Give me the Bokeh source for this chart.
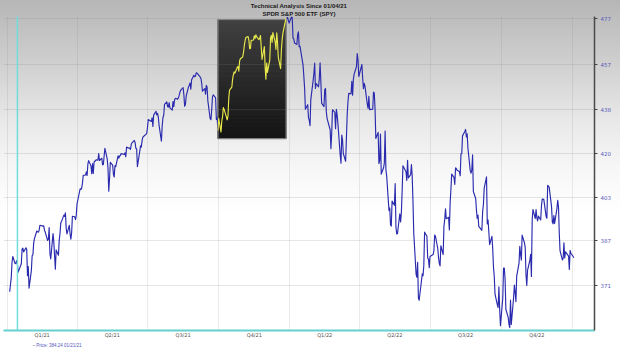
import numpy as np
import pandas as pd
from bokeh.plotting import figure
from bokeh.models import Range1d, FixedTicker, PrintfTickFormatter, Span, Title
from bokeh.embed import file_html
from bokeh.resources import INLINE

# ---------------- data ----------------
title_line1 = "Technical Analysis Since 01/04/21"
title_line2 = "SPDR S&P 500 ETF (SPY)"

# trading days per month (Jan..Dec) and closing prices
days_2021 = [
    [4, 5, 6, 7, 8, 11, 12, 13, 14, 15, 19, 20, 21, 22, 25, 26, 27, 28, 29],
    [1, 2, 3, 4, 5, 8, 9, 10, 11, 12, 16, 17, 18, 19, 22, 23, 24, 25, 26],
    [1, 2, 3, 4, 5, 8, 9, 10, 11, 12, 15, 16, 17, 18, 19, 22, 23, 24, 25, 26, 29, 30, 31],
    [1, 5, 6, 7, 8, 9, 12, 13, 14, 15, 16, 19, 20, 21, 22, 23, 26, 27, 28, 29, 30],
    [3, 4, 5, 6, 7, 10, 11, 12, 13, 14, 17, 18, 19, 20, 21, 24, 25, 26, 27, 28],
    [1, 2, 3, 4, 7, 8, 9, 10, 11, 14, 15, 16, 17, 18, 21, 22, 23, 24, 25, 28, 29, 30],
    [1, 2, 6, 7, 8, 9, 12, 13, 14, 15, 16, 19, 20, 21, 22, 23, 26, 27, 28, 29, 30],
    [2, 3, 4, 5, 6, 9, 10, 11, 12, 13, 16, 17, 18, 19, 20, 23, 24, 25, 26, 27, 30, 31],
    [1, 2, 3, 7, 8, 9, 10, 13, 14, 15, 16, 17, 20, 21, 22, 23, 24, 27, 28, 29, 30],
    [1, 4, 5, 6, 7, 8, 11, 12, 13, 14, 15, 18, 19, 20, 21, 22, 25, 26, 27, 28, 29],
    [1, 2, 3, 4, 5, 8, 9, 10, 11, 12, 15, 16, 17, 18, 19, 22, 23, 24, 26, 29, 30],
    [1, 2, 3, 6, 7, 8, 9, 10, 13, 14, 15, 16, 17, 20, 21, 22, 23, 27, 28, 29, 30, 31],
]
close_2021 = [
    [368.79, 371.33, 373.55, 379.10, 381.26, 378.69, 378.77, 379.79, 378.46, 375.70,
     378.65, 383.89, 384.24, 382.88, 384.39, 383.79, 374.41, 377.63, 370.07],
    [376.23, 381.55, 381.85, 386.19, 387.71, 390.51, 390.25, 390.08, 390.71, 392.64,
     392.30, 392.39, 390.72, 390.03, 387.03, 387.50, 391.77, 382.33, 380.36],
    [389.58, 386.54, 381.42, 376.70, 383.63, 381.72, 387.17, 389.58, 393.53, 394.06,
     396.41, 395.91, 397.26, 391.48, 389.48, 392.59, 389.50, 387.52, 389.70, 395.98,
     395.78, 394.73, 396.33],
    [400.61, 406.36, 406.12, 406.59, 408.52, 411.49, 411.64, 412.86, 411.45, 415.87,
     417.26, 415.21, 412.17, 416.07, 412.27, 416.74, 417.61, 417.52, 417.40, 420.06,
     417.30],
    [418.20, 415.62, 415.75, 419.07, 422.12, 417.94, 414.21, 405.41, 410.28, 416.58,
     415.52, 411.94, 410.86, 415.28, 414.94, 419.17, 418.24, 419.07, 419.29, 420.04],
    [419.67, 420.33, 418.77, 422.60, 422.19, 422.28, 421.65, 423.61, 424.31, 425.26,
     424.48, 422.11, 421.97, 414.92, 420.86, 423.11, 422.60, 425.10, 426.61, 427.47,
     427.70, 428.06],
    [430.43, 433.72, 432.93, 434.46, 430.92, 435.52, 437.08, 435.59, 436.24, 434.75,
     431.34, 424.97, 431.06, 434.55, 435.46, 439.94, 441.02, 439.01, 438.83, 440.65,
     438.51],
    [437.59, 441.15, 438.98, 441.76, 442.49, 442.13, 442.68, 443.78, 445.11, 445.92,
     446.97, 444.04, 439.18, 439.86, 443.36, 447.26, 447.97, 448.91, 446.26, 450.25,
     452.23, 451.56],
    [451.80, 453.19, 453.08, 451.46, 450.91, 448.98, 445.44, 446.58, 444.17, 447.88,
     447.17, 441.40, 434.04, 433.63, 437.86, 443.18, 443.91, 442.64, 433.72, 434.45,
     429.14],
    [434.24, 428.64, 433.10, 434.90, 438.66, 437.86, 434.69, 433.62, 435.18, 442.50,
     445.87, 447.19, 450.64, 452.41, 453.59, 453.12, 455.55, 455.96, 453.94, 458.32,
     459.25],
    [460.04, 461.90, 464.72, 466.91, 468.53, 468.93, 467.38, 463.62, 463.77, 467.27,
     467.43, 469.28, 468.14, 469.73, 468.89, 467.57, 468.19, 469.44, 458.97, 464.60,
     455.56],
    [450.50, 457.40, 453.42, 458.79, 468.28, 469.52, 466.35, 470.74, 466.57, 463.36,
     470.60, 466.45, 459.87, 454.98, 463.06, 467.69, 470.60, 477.26, 476.87, 477.48,
     476.16, 474.96],
]
days_2022 = [
    [3, 4, 5, 6, 7, 10, 11, 12, 13, 14, 18, 19, 20, 21, 24, 25, 26, 27, 28, 31],
    [1, 2, 3, 4, 7, 8, 9, 10, 11, 14, 15, 16, 17, 18, 22, 23, 24, 25, 28],
    [1, 2, 3, 4, 7, 8, 9, 10, 11, 14, 15, 16, 17, 18, 21, 22, 23, 24, 25, 28, 29, 30, 31],
    [1, 4, 5, 6, 7, 8, 11, 12, 13, 14, 18, 19, 20, 21, 22, 25, 26, 27, 28, 29],
    [2, 3, 4, 5, 6, 9, 10, 11, 12, 13, 16, 17, 18, 19, 20, 23, 24, 25, 26, 27, 31],
    [1, 2, 3, 6, 7, 8, 9, 10, 13, 14, 15, 16, 17, 21, 22, 23, 24, 27, 28, 29, 30],
    [1, 5, 6, 7, 8, 11, 12, 13, 14, 15, 18, 19, 20, 21, 22, 25, 26, 27, 28, 29],
    [1, 2, 3, 4, 5, 8, 9, 10, 11, 12, 15, 16, 17, 18, 19, 22, 23, 24, 25, 26, 29, 30, 31],
    [1, 2, 6, 7, 8, 9, 12, 13, 14, 15, 16, 19, 20, 21, 22, 23, 26, 27, 28, 29, 30],
    [3, 4, 5, 6, 7, 10, 11, 12, 13, 14, 17, 18, 19, 20, 21, 24, 25, 26, 27, 28, 31],
    [1, 2, 3, 4, 7, 8, 9, 10, 11, 14, 15, 16, 17, 18, 21, 22, 23, 25, 28, 29, 30],
    [1, 2, 5, 6, 7, 8, 9, 12, 13, 14, 15, 16, 19, 20, 21, 22, 23, 27, 28, 29, 30],
]
close_2022 = [
    [477.71, 477.55, 468.38, 467.94, 466.09, 465.51, 469.75, 471.02, 464.53, 464.72,
     456.49, 451.75, 446.75, 437.98, 439.84, 434.47, 433.38, 431.24, 441.95, 449.91],
    [452.95, 457.35, 446.60, 448.70, 447.26, 450.94, 457.54, 449.32, 440.46, 439.02,
     446.10, 446.60, 437.06, 434.23, 429.57, 421.95, 428.30, 437.75, 436.63],
    [429.98, 437.89, 435.71, 432.17, 419.43, 416.25, 427.41, 425.48, 420.07, 417.00,
     426.17, 435.62, 441.07, 444.52, 444.39, 449.59, 443.80, 450.49, 452.69, 455.91,
     461.55, 458.70, 451.64],
    [452.92, 456.80, 451.03, 446.52, 448.77, 447.57, 439.92, 438.29, 443.31, 437.79,
     437.97, 445.04, 444.71, 438.06, 426.04, 428.51, 416.10, 417.27, 427.81, 412.00],
    [414.48, 416.38, 429.06, 413.81, 411.34, 398.17, 399.09, 392.75, 392.34, 401.72,
     400.09, 408.32, 391.86, 389.46, 389.63, 396.92, 393.89, 397.37, 405.31, 415.26,
     412.93],
    [409.59, 417.39, 410.54, 411.79, 415.74, 411.22, 401.44, 389.80, 375.00, 373.87,
     379.20, 366.65, 365.86, 375.07, 374.39, 378.06, 390.08, 388.59, 380.65, 380.34,
     377.25],
    [381.24, 381.96, 383.25, 388.99, 388.67, 384.23, 380.83, 378.83, 377.91, 385.13,
     381.95, 392.27, 394.77, 398.79, 395.09, 395.57, 390.89, 401.04, 406.07, 411.99],
    [410.77, 408.06, 414.45, 414.17, 413.47, 412.99, 411.35, 419.99, 419.99, 427.10,
     428.86, 429.70, 426.65, 427.89, 422.14, 413.35, 412.35, 413.67, 419.51, 405.31,
     402.63, 398.21, 395.18],
    [396.42, 392.24, 390.76, 397.78, 400.38, 406.60, 410.97, 393.10, 394.60, 390.12,
     385.56, 388.55, 384.09, 377.39, 374.22, 367.95, 364.31, 363.38, 370.53, 362.79,
     357.18],
    [366.61, 377.09, 377.09, 373.20, 362.79, 360.02, 357.74, 356.56, 365.97, 357.63,
     366.82, 371.13, 368.50, 365.41, 374.29, 378.87, 384.92, 382.02, 379.98, 389.02,
     386.21],
    [384.52, 374.87, 371.01, 376.35, 379.95, 382.00, 374.13, 394.69, 398.51, 395.12,
     398.49, 395.45, 394.24, 396.03, 394.59, 399.90, 402.42, 402.33, 395.91, 395.23,
     407.68],
    [407.38, 406.91, 399.59, 393.83, 393.16, 396.24, 393.28, 398.95, 401.97, 399.40,
     389.63, 383.27, 380.02, 380.54, 386.23, 380.72, 382.91, 381.40, 376.66, 383.44,
     382.43],
]
days_2023 = [[3]]
close_2023 = [[380.82]]

y_ticks = [371, 387, 403, 420, 438, 457, 477]
quarter_labels = ["Q1/21", "Q2/21", "Q3/21", "Q4/21", "Q1/22", "Q2/22", "Q3/22", "Q4/22"]
quarter_starts = ["2021-01-01", "2021-04-01", "2021-07-01", "2021-10-01",
                  "2022-01-01", "2022-04-01", "2022-07-01", "2022-10-01", "2023-01-01"]

highlight_start = "2021-09-30"
highlight_end = "2021-12-27"
highlight_low = 426.0
highlight_high = 476.5
legend_date = "2021-01-21"      # date shown in the price legend
crosshair_date = "2021-01-14"   # where the cyan crosshair line sits

x_start, x_end = "2020-12-27", "2023-01-29 12:00"
y_low, y_high = 355.6, 477.9


# ---------------- build ----------------
def build(year, days, closes):
    dts, vals = [], []
    for m, (dl, cl) in enumerate(zip(days, closes), start=1):
        assert len(dl) == len(cl), (year, m)
        for d, c in zip(dl, cl):
            dts.append(pd.Timestamp(year, m, d))
            vals.append(c)
    return dts, vals


dates, closes = [], []
for yr, dd, cc in [(2021, days_2021, close_2021), (2022, days_2022, close_2022),
                   (2023, days_2023, close_2023)]:
    a, b = build(yr, dd, cc)
    dates += a
    closes += b
df = pd.DataFrame({"date": dates, "close": closes})

hs, he = pd.Timestamp(highlight_start), pd.Timestamp(highlight_end)
seg_before = df[df.date <= hs]
seg_inside = df[(df.date >= hs) & (df.date <= he)]
seg_after = df[df.date >= he]


def ms(s):
    return pd.Timestamp(s).value // 10**6


p = figure(width=620, height=347, x_axis_type="datetime", y_axis_type="log",
           x_range=Range1d(pd.Timestamp(x_start), pd.Timestamp(x_end)),
           y_range=Range1d(y_low, y_high), title=None,
           output_backend="svg", toolbar_location=None, y_axis_location="right",
           min_border_left=3, min_border_right=26, min_border_top=0,
           min_border_bottom=0)
p.background_fill_color = None
p.border_fill_color = None
p.outline_line_color = None
p.styles = {"background": "linear-gradient(180deg, #b6b6b6 0px, #cecece 60px, "
                          "#e8e8e8 120px, #f7f7f7 170px, #ffffff 215px)"}

# titles (line 2 nearest the frame, line 1 above it)
for txt in [title_line2, title_line1]:
    p.add_layout(Title(text=txt, align="center", text_font="Liberation Sans",
                       text_font_size="6px", text_font_style="bold",
                       text_color="#1a1a1a", standoff=0, offset=0,
                       text_line_height=1.0), "above")

# highlight box with dark vertical gradient
n = 30
edges = np.geomspace(highlight_low, highlight_high, n + 1)
shade = np.linspace(0x15, 0x40, n)
cols = ["#%02x%02x%02x" % (int(s), int(s), int(s)) for s in shade]
p.quad(left=[hs] * n, right=[he] * n, bottom=edges[:-1], top=edges[1:],
       fill_color=cols, line_color=cols, line_width=1, level="image")
p.quad(left=[hs], right=[he], bottom=[highlight_low], top=[highlight_high],
       fill_color=None, line_color="#8c8c8c", line_width=1, level="image")

blue = "#2a2aae"
p.line(seg_before.date, seg_before.close, line_color=blue, line_width=1.15, line_join="round")
p.line(seg_after.date, seg_after.close, line_color=blue, line_width=1.15, line_join="round")
p.line(seg_inside.date, seg_inside.close, line_color="#e8e84a", line_width=1.15,
       line_join="round")

# crosshair
p.add_layout(Span(location=ms(crosshair_date), dimension="height",
                  line_color="#72dcdc", line_width=1.5))

# grids
p.ygrid.grid_line_color = "#808080"
p.ygrid.grid_line_alpha = 0.2
p.xgrid.ticker = FixedTicker(ticks=[ms(q) for q in quarter_starts])
p.xgrid.grid_line_color = "#808080"
p.xgrid.grid_line_alpha = 0.16

# x axis
mids = [(ms(a) + ms(b)) // 2 for a, b in zip(quarter_starts[:-1], quarter_starts[1:])]
p.xaxis.ticker = FixedTicker(ticks=mids)
p.xaxis.major_label_overrides = {m: lab for m, lab in zip(mids, quarter_labels)}
p.xaxis.major_tick_out = 0
p.xaxis.major_tick_in = 0
p.xaxis.minor_tick_out = 0
p.xaxis.major_tick_line_color = None
p.xaxis.minor_tick_line_color = None
p.xaxis.axis_line_color = "#66d0d0"
p.xaxis.axis_line_width = 2
p.xaxis.major_label_standoff = 1
p.xaxis.axis_label_standoff = 0
p.xaxis.major_label_text_font = "DejaVu Sans"
p.xaxis.major_label_text_font_size = "5px"
p.xaxis.major_label_text_color = "#555555"

# legend line under the axis
cur = df[df.date == pd.Timestamp(legend_date)].iloc[0]
legend_txt = "\u2013 Price: %.2f %s" % (cur.close, cur.date.strftime("%m/%d/%y"))
p.add_layout(Title(text=legend_txt, align="left", offset=29, standoff=0,
                   text_font="Liberation Sans", text_font_size="4.5px",
                   text_font_style="normal", text_color="#5555bb",
                   text_line_height=1.0), "below")

# y axis (right)
p.yaxis.ticker = FixedTicker(ticks=y_ticks)
p.yaxis.formatter = PrintfTickFormatter(format="%d")
p.yaxis.major_tick_in = 0
p.yaxis.major_tick_out = 3
p.yaxis.minor_tick_out = 0
p.yaxis.major_tick_line_color = "#444444"
p.yaxis.minor_tick_line_color = None
p.yaxis.axis_line_color = "#4a4a4a"
p.yaxis.axis_line_width = 1.5
p.yaxis.major_label_standoff = 3
p.yaxis.major_label_text_font = "DejaVu Sans"
p.yaxis.major_label_text_font_size = "5.5px"
p.yaxis.major_label_text_color = "#5a5abb"

open("out.html", "w").write(file_html(p, INLINE))
